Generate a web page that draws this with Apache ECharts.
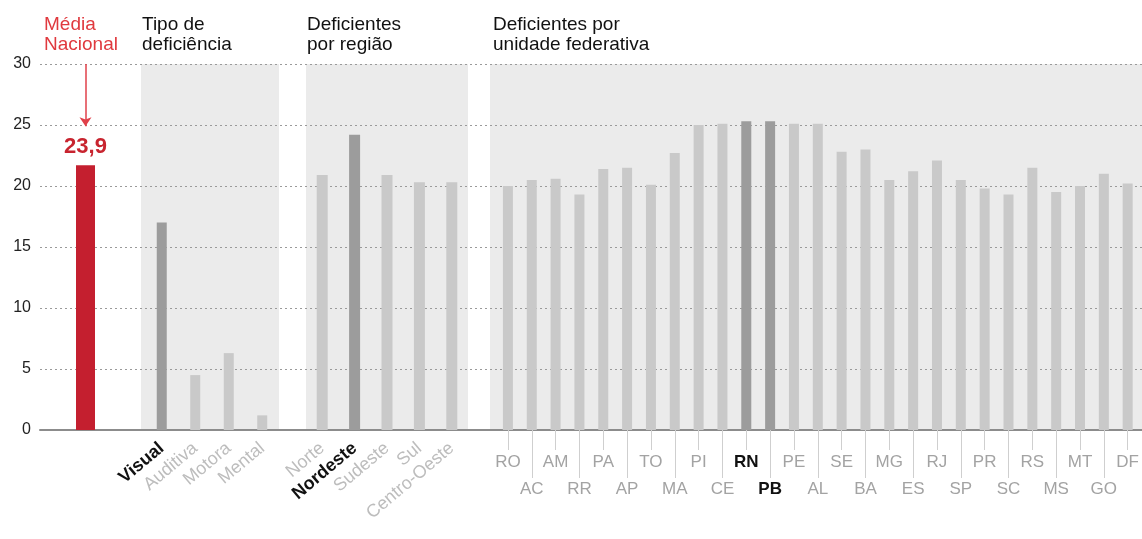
<!DOCTYPE html>
<html>
<head>
<meta charset="utf-8">
<script src="https://cdn.jsdelivr.net/npm/echarts@6/dist/echarts.min.js"></script>
<style>
  html, body { margin: 0; padding: 0; background: #fff; }
  #chart { width: 1142px; height: 539px; }
</style>
</head>
<body>
<div id="chart"></div>
<script>
// values
const yTicks = [0, 5, 10, 15, 20, 25, 30];

const nationalCats = ['Média Nacional'];
const nationalValues = [21.7];
const nationalText = '23,9';

const typeCats = ['Visual', 'Auditiva', 'Motora', 'Mental'];
const typeValues = [17.0, 4.5, 6.3, 1.2];

const regionCats = ['Norte', 'Nordeste', 'Sudeste', 'Sul', 'Centro-Oeste'];
const regionValues = [20.9, 24.2, 20.9, 20.3, 20.3];

const ufCats = ['RO', 'AC', 'AM', 'RR', 'PA', 'AP', 'TO', 'MA', 'PI', 'CE', 'RN', 'PB', 'PE', 'AL',
  'SE', 'BA', 'MG', 'ES', 'RJ', 'SP', 'PR', 'SC', 'RS', 'MS', 'MT', 'GO', 'DF'];
const ufValues = [20.0, 20.5, 20.6, 19.3, 21.4, 21.5, 20.1, 22.7, 25.0, 25.1, 25.3, 25.3, 25.1, 25.1,
  22.8, 23.0, 20.5, 21.2, 22.1, 20.5, 19.8, 19.3, 21.5, 19.5, 20.0, 21.0, 20.2];

const highlighted = ['Visual', 'Nordeste', 'RN', 'PB'];

const FONT = "'Liberation Sans', Arial, sans-serif";
const RED = '#c41f2f';
const LIGHT = '#c9c9c9';
const DARK = '#9c9c9c';
const PANEL = '#ebebeb';

const chart = echarts.init(document.getElementById('chart'));

const gridTop = 64;
const gridHeight = 366;

const hiddenY = (gridIndex) => ({
  type: 'value', gridIndex, min: 0, max: 30, show: false,
});
const hiddenX = (gridIndex) => ({ type: 'category', gridIndex, data: [''], show: false });

// shaded panel behind each group
const panelGrid = (left, width) => ({
  left, width, top: gridTop, height: gridHeight,
  show: true, backgroundColor: PANEL, borderWidth: 0,
});

const barColor = (cats) => (p) => (highlighted.includes(cats[p.dataIndex]) ? DARK : LIGHT);

const rotatedLabel = {
  interval: 0,
  hideOverlap: false,
  rotate: 40,
  margin: 16,
  fontFamily: FONT,
  fontSize: 18,
  formatter: (v) => (highlighted.includes(v) ? `{b|${v}}` : `{n|${v}}`),
  rich: {
    b: { fontFamily: FONT, fontSize: 18, fontWeight: 'bold', color: '#111' },
    n: { fontFamily: FONT, fontSize: 18, color: '#bdbdbd' },
  },
};

const ufLabel = (row) => ({
  interval: (i) => i % 2 === row,
  margin: row === 0 ? 24 : 51,
  fontFamily: FONT, fontSize: 17, color: '#a3a3a3',
  formatter: (v) => (highlighted.includes(v) ? `{b|${v}}` : v),
  rich: { b: { fontFamily: FONT, fontSize: 17, fontWeight: 'bold', color: '#111' } },
});

const titleStyle = { fontFamily: FONT, fontSize: 19, fontWeight: 'normal', lineHeight: 20, color: '#111' };

const option = {
  animation: false,
  backgroundColor: '#fff',
  title: [
    { text: 'Média\nNacional', left: 44, top: 15, padding: 0, textStyle: { ...titleStyle, color: '#e0393e' } },
    { text: 'Tipo de\ndeficiência', left: 142, top: 15, padding: 0, textStyle: titleStyle },
    { text: 'Deficientes\npor região', left: 307, top: 15, padding: 0, textStyle: titleStyle },
    { text: 'Deficientes por\nunidade federativa', left: 493, top: 15, padding: 0, textStyle: titleStyle },
  ],
  grid: [
    { left: 40, right: 0, top: gridTop, height: gridHeight },
    { left: 40, width: 91, top: gridTop, height: gridHeight },
    { left: 145, width: 134, top: gridTop, height: gridHeight },
    { left: 306, width: 162, top: gridTop, height: gridHeight },
    { left: 496, width: 644, top: gridTop, height: gridHeight },
    panelGrid(141, 138),
    panelGrid(306, 162),
    panelGrid(490, 652),
  ],
  xAxis: [
    {
      type: 'category', gridIndex: 0, data: [''],
      axisLine: { show: true, lineStyle: { color: '#8c8c8c', width: 2 } },
      axisTick: { show: false }, axisLabel: { show: false },
    },
    { type: 'category', gridIndex: 1, data: nationalCats, show: false },
    {
      type: 'category', gridIndex: 2, data: typeCats,
      axisLine: { show: false }, axisTick: { show: false },
      axisLabel: rotatedLabel,
    },
    {
      type: 'category', gridIndex: 3, data: regionCats,
      axisLine: { show: false }, axisTick: { show: false },
      axisLabel: rotatedLabel,
    },
    // UF labels, upper row
    {
      type: 'category', gridIndex: 4, data: ufCats,
      axisLine: { show: false },
      axisTick: {
        show: true, alignWithLabel: true, length: 20,
        interval: (i) => i % 2 === 0,
        lineStyle: { color: '#cfcfcf', width: 1 },
      },
      axisLabel: ufLabel(0),
    },
    // UF labels, lower row
    {
      type: 'category', gridIndex: 4, data: ufCats, position: 'bottom',
      axisLine: { show: false },
      axisTick: {
        show: true, alignWithLabel: true, length: 48,
        interval: (i) => i % 2 === 1,
        lineStyle: { color: '#cfcfcf', width: 1 },
      },
      axisLabel: ufLabel(1),
    },
    hiddenX(5),
    hiddenX(6),
    hiddenX(7),
  ],
  yAxis: [
    {
      type: 'value', gridIndex: 0, min: yTicks[0], max: yTicks[yTicks.length - 1], interval: 5,
      axisLine: { show: false }, axisTick: { show: false },
      axisLabel: { margin: 9, fontFamily: FONT, fontSize: 16, color: '#222' },
      splitLine: { show: true, lineStyle: { color: '#9a9a9a', type: [2, 3], width: 1 } },
    },
    hiddenY(1),
    hiddenY(2),
    hiddenY(3),
    hiddenY(4),
    hiddenY(5),
    hiddenY(6),
    hiddenY(7),
  ],
  series: [
    {
      name: 'Média Nacional', type: 'bar', xAxisIndex: 1, yAxisIndex: 1,
      data: nationalValues, barWidth: 19, clip: false,
      itemStyle: { color: RED },
      label: {
        show: true, position: 'top', distance: 7, formatter: nationalText,
        fontFamily: FONT, fontSize: 22, fontWeight: 'bold', color: '#c8242f',
      },
      markLine: {
        silent: true, symbol: ['none', 'arrow'], symbolSize: [9, 9],
        label: { show: false },
        lineStyle: { color: '#e0404a', width: 1.5, type: 'solid' },
        data: [[{ coord: [0, 30] }, { coord: [0, 24.9] }]],
      },
    },
    {
      name: 'Tipo de deficiência', type: 'bar', xAxisIndex: 2, yAxisIndex: 2,
      data: typeValues, barWidth: 10, itemStyle: { color: barColor(typeCats) },
    },
    {
      name: 'Deficientes por região', type: 'bar', xAxisIndex: 3, yAxisIndex: 3,
      data: regionValues, barWidth: 11, itemStyle: { color: barColor(regionCats) },
    },
    {
      name: 'Deficientes por unidade federativa', type: 'bar', xAxisIndex: 4, yAxisIndex: 4,
      data: ufValues, barWidth: 10, itemStyle: { color: barColor(ufCats) },
    },
  ],
};

chart.setOption(option);
window.addEventListener('resize', () => chart.resize());
</script>
</body>
</html>
